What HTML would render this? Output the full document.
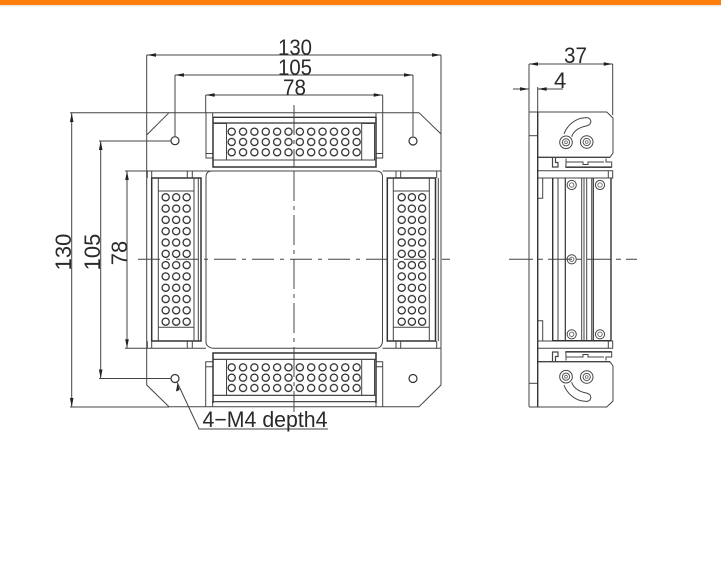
<!DOCTYPE html>
<html>
<head>
<meta charset="utf-8">
<style>
html,body{margin:0;padding:0;background:#fff;width:721px;height:564px;overflow:hidden}
svg{display:block}
text{font-family:"Liberation Sans",sans-serif;fill:#2a2a2a;font-size:22px}
</style>
</head>
<body>
<svg width="721" height="564" viewBox="0 0 721 564" xmlns="http://www.w3.org/2000/svg">
<defs>
<linearGradient id="sh" x1="0" y1="0" x2="0" y2="1"><stop offset="0" stop-color="#e2e2e2"/><stop offset="1" stop-color="#fff"/></linearGradient>
<pattern id="ph" patternUnits="userSpaceOnUse" width="11.36" height="10.3" x="226" y="126.5"><circle cx="5.68" cy="5.15" r="3.6" fill="none" stroke="#222" stroke-width="1.2"/></pattern>
<pattern id="pb" patternUnits="userSpaceOnUse" width="11.36" height="10.3" x="226" y="362.2"><circle cx="5.68" cy="5.15" r="3.6" fill="none" stroke="#222" stroke-width="1.2"/></pattern>
<pattern id="pl" patternUnits="userSpaceOnUse" width="10.5" height="11.31" x="160.4" y="191.6"><circle cx="5.25" cy="5.65" r="3.6" fill="none" stroke="#222" stroke-width="1.2"/></pattern>
<pattern id="pr" patternUnits="userSpaceOnUse" width="10.2" height="11.31" x="396.6" y="191.6"><circle cx="5.1" cy="5.65" r="3.6" fill="none" stroke="#222" stroke-width="1.2"/></pattern>
<g id="sc1"><circle r="6.3" fill="none" stroke="#444" stroke-width="1"/><circle r="3.6" fill="none" stroke="#555" stroke-width="1"/><circle r="1.4" fill="none" stroke="#666" stroke-width="0.8"/></g>
<g id="sc2"><circle r="4.6" fill="none" stroke="#444" stroke-width="1"/><circle r="2.2" fill="none" stroke="#666" stroke-width="0.9"/></g>
<g id="end" fill="none" stroke="#444" stroke-width="1">
  <path d="M529 112H606.7L613 118V153L610 157.3"/>
  <path d="M529 135.7H537.7"/>
  <path d="M538 157.3H610" stroke-width="1.4"/>
  <path d="M564 134C567 125 576 118 585 117.7C590 117 592 121 590 124C588 126 586 126 584 126.5C578 128 573 132 571.7 136.7" stroke-width="1"/>
  <use href="#sc1" x="566" y="142.3"/>
  <use href="#sc1" x="586.7" y="142"/>
  <path d="M552.5 157.5V167H558V162.5H555.5V157.5" stroke-width="1.2"/>
  <path d="M566 158.5V164L565.7 167H611.7V162H606V158.5M566 162H583V164.5H588V162H604" stroke-width="1"/>
  <path d="M565.7 167.2H611.7" stroke-width="1.6"/>
  <path d="M538 170.7H612.7V178H538" stroke-width="1"/>
  <path d="M608.3 171V178"/>
  <path d="M542.7 178V198.3H538"/>
</g>
</defs>
<rect width="721" height="564" fill="#fff"/>
<rect x="0" y="0" width="721" height="5" fill="#fe7f0b"/>
<rect x="0" y="5" width="721" height="2" fill="url(#sh)"/>

<!-- FRONT VIEW -->
<g fill="none" stroke="#444" stroke-width="1">
  <path d="M169 112.7H419L441 134V385L419 406.7H169L146.7 385V135Z"/>
  <path d="M147 171H212C208 171 206 173 206 177V342C206 346 210 348.3 214 348.3H376C380 348.3 382.5 345 382.5 341V177C382.5 173 380 171 376 171H212"/>
  <path d="M382.5 171H441M147 348.3H206M382.5 348.3H441"/>
  <path d="M206 112.7V158H212.7M206 153.5H212.7M212.7 112.7V117"/>
  <path d="M382.7 112.7V158H376M382.7 153.5H376M376 112.7V117"/>
  <path d="M205.7 407V361.7H212.7M205.7 366.7H212.7M212.7 401V407"/>
  <path d="M382.7 407V361.7H376M382.7 366.7H376M376 401V407"/>
  <path d="M213 117.3H376M213 123H376" stroke="#333" stroke-width="1.3"/>
  <path d="M213 117V167H376V117" stroke="#333" stroke-width="1.5"/>
  <path d="M213 160H376"/>
  <path d="M213 123.5H226.5V160M361.7 123.5V160H374.5V123.5H361.7"/>
  <path d="M213 403V353H376V403" stroke="#333" stroke-width="1.5"/>
  <path d="M213 359.3H376M213 395.3H376M213 401.7H376" stroke="#333" stroke-width="1.2"/>
  <path d="M226.5 359.7V395.3M361.7 359.7V395.3M374.5 359.7V395.3"/>
  <path d="M151.7 178H201V341H151.7Z" stroke="#333" stroke-width="1.5"/>
  <path d="M158.3 178V341M194 178V341M198.3 178V341"/>
  <path d="M158.3 191H194M158.3 327.3H194M147.3 171V178M151.7 171V178M187.3 171V178M192.3 171V178M147.3 341V348M151.7 341V348M187.3 341V348M192.3 341V348"/>
  <path d="M387.3 178H435.5V341H387.3Z" stroke="#333" stroke-width="1.5"/>
  <path d="M393.3 178V341M429.3 178V341M438.3 178V341"/>
  <path d="M393.3 191H429.3M393.3 327.3H429.3M396 171V178M400.7 171V178M436.7 171V178M396 341V348M400.7 341V348M436.7 341V348"/>
  <circle cx="175" cy="140.7" r="4" stroke="#333" stroke-width="1.2"/>
  <circle cx="413" cy="141" r="4" stroke="#333" stroke-width="1.2"/>
  <circle cx="175" cy="378.5" r="4" stroke="#333" stroke-width="1.2"/>
  <circle cx="413" cy="378.5" r="4" stroke="#333" stroke-width="1.2"/>
</g>
<rect x="226" y="126.5" width="136.4" height="30.9" fill="url(#ph)"/>
<rect x="226" y="362.2" width="136.4" height="30.9" fill="url(#pb)"/>
<rect x="160.4" y="191.6" width="31.5" height="135.8" fill="url(#pl)"/>
<rect x="396.6" y="191.6" width="30.6" height="135.8" fill="url(#pr)"/>

<g fill="none" stroke="#444" stroke-width="1">
  <path d="M294 105V167M294 171V412" stroke-dasharray="30 5 4 5"/>
  <path d="M138 259.3H450" stroke-dasharray="22 6 4 6"/>
  <path d="M509 259.3H637" stroke-dasharray="24 5 5 5"/>
</g>

<g fill="none" stroke="#444" stroke-width="1">
  <path d="M146.7 55H441M146.7 55V135M441 55V134"/>
  <path d="M175 75H413M175 75V136M413 75V136"/>
  <path d="M205.7 95H382.7M205.7 95V113M382.7 95V113"/>
  <path d="M70 112.7H169M70 407H169M71.7 112.7V407"/>
  <path d="M99 141H171M99 378.5H171M100.7 141V378.5"/>
  <path d="M125 171H147M125 348.3H147M127 171V348.3"/>
  <path d="M177 382L199 429H328"/>
  <path d="M529 64H612.7M529 64V112M612.7 64V115"/>
  <path d="M513 89H529M537.7 89H563M529 89V112M537.7 87V112"/>
</g>
<g fill="#222">
  <path d="M147 55L156 53.2V56.8Z"/><path d="M441 55L432 53.2V56.8Z"/>
  <path d="M175 75L184 73.2V76.8Z"/><path d="M413 75L404 73.2V76.8Z"/>
  <path d="M205.7 95L214.7 93.2V96.8Z"/><path d="M382.7 95L373.7 93.2V96.8Z"/>
  <path d="M71.7 113L69.9 122H73.5Z"/><path d="M71.7 407L69.9 398H73.5Z"/>
  <path d="M100.7 141L98.9 150H102.5Z"/><path d="M100.7 378.5L98.9 369.5H102.5Z"/>
  <path d="M127 171L125.2 180H128.8Z"/><path d="M127 348.3L125.2 339.3H128.8Z"/>
  <path d="M177.5 383L179.5 390L176 391.5Z"/>
  <path d="M529 64L538 62.2V65.8Z"/><path d="M612.7 64L603.7 62.2V65.8Z"/>
  <path d="M529 89L520 87.2V90.8Z"/><path d="M537.7 89L546.7 87.2V90.8Z"/>
</g>

<g fill="none" stroke="#444" stroke-width="1">
  <use href="#end"/>
  <use href="#end" transform="matrix(1 0 0 -1 0 519)"/>
  <path d="M529 112V406.7"/>
  <path d="M537.7 112V406.7" stroke="#333" stroke-width="1.4"/>
  <path d="M552.7 178V340.7M611 178V340.7" stroke="#333" stroke-width="1.4"/>
  <path d="M558 178V340.7M581.7 178V340.7M584 178V340.7M586.7 178V340.7M591.7 178V340.7"/>
  <path d="M565.3 178V340.7M593.3 178V340.7" stroke="#333" stroke-width="1.2"/>
  <path d="M552.7 340.7H611" stroke="#333" stroke-width="1.4"/>
  <use href="#sc2" x="571.7" y="185"/>
  <use href="#sc2" x="600" y="185"/>
  <use href="#sc2" x="571.7" y="259.3"/>
  <use href="#sc2" x="571.7" y="334.3"/>
  <use href="#sc2" x="600" y="334.3"/>
</g>

<text x="278" y="55" textLength="34" lengthAdjust="spacingAndGlyphs">130</text>
<text x="278" y="75" textLength="34" lengthAdjust="spacingAndGlyphs">105</text>
<text x="283" y="95" textLength="23" lengthAdjust="spacingAndGlyphs">78</text>
<text transform="translate(71 252) rotate(-90)" text-anchor="middle">130</text>
<text transform="translate(100 252) rotate(-90)" text-anchor="middle">105</text>
<text transform="translate(127 253) rotate(-90)" text-anchor="middle">78</text>
<text x="564" y="63" textLength="23" lengthAdjust="spacingAndGlyphs">37</text>
<text x="554" y="88">4</text>
<text x="202.5" y="427" textLength="125" lengthAdjust="spacingAndGlyphs">4−M4 depth4</text>
</svg>
</body>
</html>
